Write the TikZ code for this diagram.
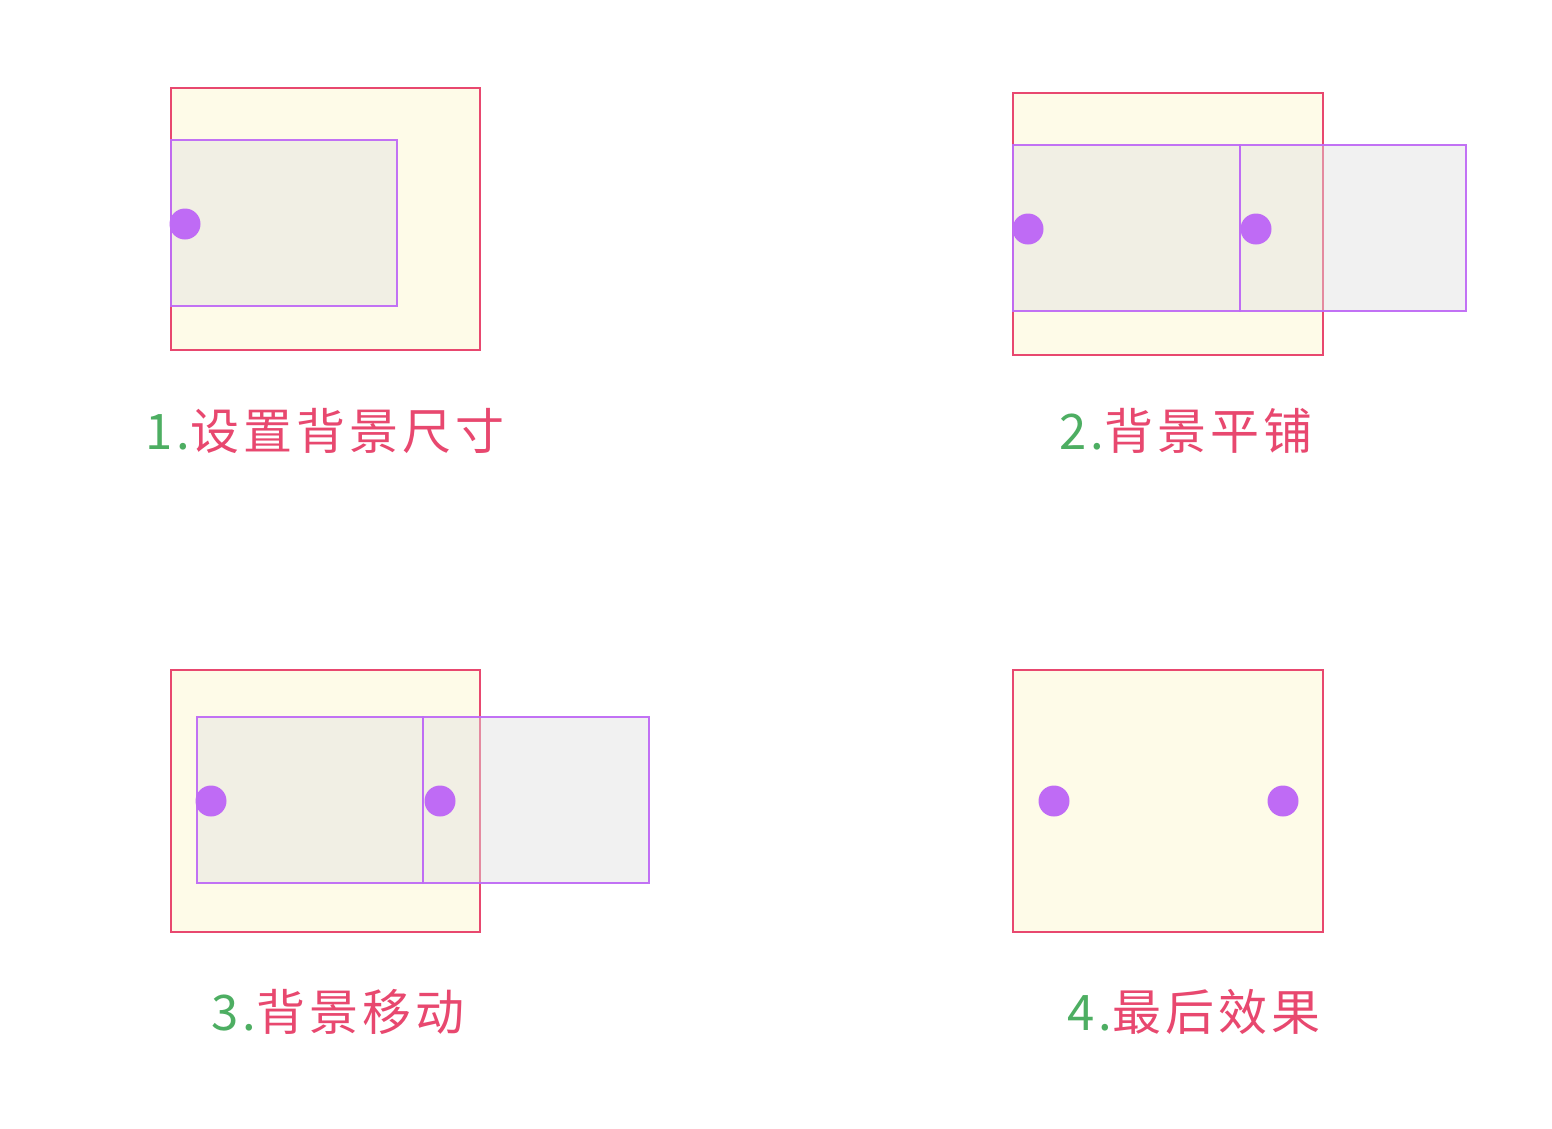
\documentclass[tikz,border=0pt]{standalone}
\usepackage{fontspec}
\newfontfamily\cjk[LetterSpace=8]{Noto Sans CJK SC}
\definecolor{pinkc}{HTML}{E8486F}
\definecolor{purp}{HTML}{BF6BF5}
\definecolor{yel}{HTML}{FEFBE8}
\definecolor{grn}{HTML}{4DAE62}
\definecolor{grayf}{HTML}{E1E1E1}
\tikzset{
  outer/.style={draw=pinkc, fill=yel, line width=2.7pt},
  inner/.style={draw=purp, fill=grayf, fill opacity=0.435, draw opacity=0.95, line width=2.7pt},
  dot/.style={circle, fill=purp, minimum size=31pt, inner sep=0pt},
  lbl/.style={font=\cjk\fontsize{49}{52}\selectfont, text=pinkc, inner sep=0pt}
}
\begin{document}
\begin{tikzpicture}[x=1pt,y=-1pt]
\useasboundingbox (0,0) rectangle (1552,1128);
\fill[white] (0,0) rectangle (1552,1128);
% panel 1
\draw[outer] (171,88) rectangle (480,350);
\draw[inner] (171,140) rectangle (397,306);
\node[dot] (d1) at (185,224) {};
\node[lbl] (l1) at (325,431) {\textcolor{grn}{1.}设置背景尺寸};
% panel 2
\draw[outer] (1013,93) rectangle (1323,355);
\draw[inner] (1013,145) rectangle (1240,311);
\draw[inner] (1240,145) rectangle (1466,311);
\node[dot] (d2a) at (1028,229) {};
\node[dot] (d2b) at (1256,229) {};
\node[lbl] (l2) at (1186,431) {\textcolor{grn}{2.}背景平铺};
% panel 3
\draw[outer] (171,670) rectangle (480,932);
\draw[inner] (197,717) rectangle (423,883);
\draw[inner] (423,717) rectangle (649,883);
\node[dot] (d3a) at (211,801) {};
\node[dot] (d3b) at (440,801) {};
\node[lbl] (l3) at (338,1012) {\textcolor{grn}{3.}背景移动};
% panel 4
\draw[outer] (1013,670) rectangle (1323,932);
\node[dot] (d4a) at (1054,801) {};
\node[dot] (d4b) at (1283,801) {};
\node[lbl] (l4) at (1194,1012) {\textcolor{grn}{4.}最后效果};
\end{tikzpicture}
\end{document}
